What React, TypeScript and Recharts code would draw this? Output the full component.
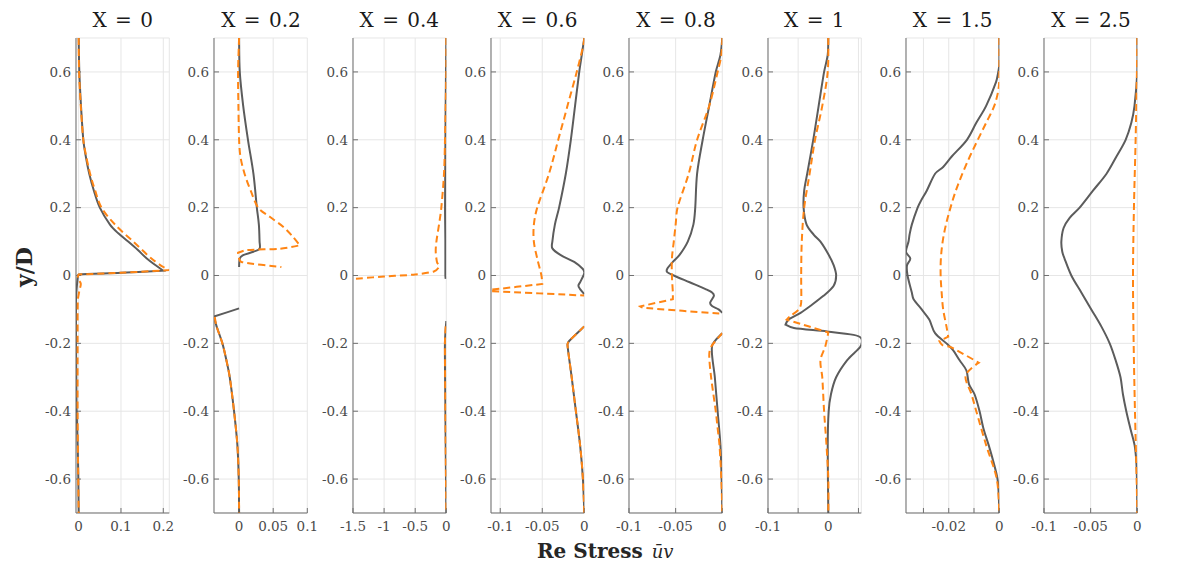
import React from "react";
import { ScatterChart, Scatter, XAxis, YAxis, CartesianGrid } from "recharts";

// each point is [uv, y/D]; a series can be broken into several segments
type Pt = [number, number];

const titles = ["X = 0", "X = 0.2", "X = 0.4", "X = 0.6", "X = 0.8", "X = 1", "X = 1.5", "X = 2.5"];

const yTicks = [-0.6, -0.4, -0.2, 0, 0.2, 0.4, 0.6];

const xDomains: [number, number][] = [
  [-0.0063, 0.2142],
  [-0.0368, 0.1],
  [-1.5, 0],
  [-0.111, 0],
  [-0.1, 0],
  [-0.1, 0.0547],
  [-0.0369, 0],
  [-0.1, 0],
];

const xTicks = [
  [0, 0.1, 0.2],
  [0, 0.05, 0.1],
  [-1.5, -1, -0.5, 0],
  [-0.1, -0.05, 0],
  [-0.1, -0.05, 0],
  [-0.1, -0.05, 0, 0.05],
  [-0.03, -0.02, -0.01, 0],
  [-0.1, -0.05, 0],
];

// ticks that carry a label (the others only get a grid line)
const xTickLabels = [
  [0, 0.1, 0.2],
  [0, 0.05, 0.1],
  [-1.5, -1, -0.5, 0],
  [-0.1, -0.05, 0],
  [-0.1, -0.05, 0],
  [-0.1, 0],
  [-0.02, 0],
  [-0.1, -0.05, 0],
];

// X = 0
const x0Solid: Pt[][] = [[
  [0, 0.7], [0.0016, 0.6], [0.0055, 0.5], [0.011, 0.4], [0.017, 0.35], [0.025, 0.3], [0.036, 0.25],
  [0.05, 0.2], [0.074, 0.15], [0.093, 0.125], [0.117, 0.1], [0.14, 0.075], [0.161, 0.05], [0.182, 0.03],
  [0.2, 0.014], [0.1, 0.008], [0, 0.003], [-0.002, -0.005], [-0.005, -0.043], [-0.0062, -0.072],
  [-0.0062, -0.2], [-0.0055, -0.3], [-0.0047, -0.4], [-0.0024, -0.5], [-0.0008, -0.6], [0, -0.7],
]];
const x0Dash: Pt[][] = [[
  [0, 0.7], [0.001, 0.6], [0.005, 0.5], [0.011, 0.4], [0.018, 0.35], [0.027, 0.3], [0.039, 0.25],
  [0.054, 0.2], [0.086, 0.15], [0.129, 0.1], [0.172, 0.05], [0.2, 0.025], [0.214, 0.016], [0.1, 0.008],
  [0, 0.003], [-0.002, -0.009], [0.005, -0.024], [0.002, -0.043], [-0.002, -0.073], [-0.0025, -0.2],
  [-0.0025, -0.4], [-0.001, -0.6], [0, -0.7],
]];

// X = 0.2
const x02Solid: Pt[][] = [
  [[0, 0.7], [0.001, 0.6], [0.006, 0.5], [0.013, 0.4], [0.021, 0.3], [0.026, 0.2], [0.029, 0.15],
   [0.03, 0.1], [0.03, 0.079], [0.021, 0.07], [0.006, 0.06], [0.001, 0.05], [0, 0.025]],
  [[0, -0.097], [-0.0368, -0.121], [-0.033, -0.15], [-0.0245, -0.2], [-0.0186, -0.25], [-0.0137, -0.3],
   [-0.0074, -0.4], [-0.0025, -0.5], [-0.0005, -0.6], [0, -0.7]],
];
const x02Dash: Pt[][] = [
  [[0, 0.7], [-0.0015, 0.6], [-0.001, 0.5], [0, 0.4], [0.002, 0.35], [0.008, 0.3], [0.017, 0.25],
   [0.028, 0.2], [0.045, 0.173], [0.065, 0.143], [0.079, 0.114], [0.089, 0.089], [0.06, 0.079],
   [0.011, 0.075], [-0.0015, 0.067], [-0.001, 0.057], [0.0034, 0.04], [0.062, 0.025]],
  [[-0.0358, -0.122], [-0.033, -0.15], [-0.0245, -0.2], [-0.0186, -0.25], [-0.0137, -0.3],
   [-0.0074, -0.4], [-0.0025, -0.5], [-0.0005, -0.6], [0, -0.7]],
];

// X = 0.4
const x04Solid: Pt[][] = [
  [[0, 0.7], [-0.005, 0.6], [-0.014, 0.4], [-0.02, 0.2], [-0.015, 0.1], [-0.015, 0], [-0.01, -0.01]],
  [[0, -0.134], [-0.022, -0.2], [-0.014, -0.4], [-0.005, -0.6], [0, -0.7]],
];
const x04Dash: Pt[][] = [
  [[0, 0.7], [0, 0.6], [-0.021, 0.4], [-0.037, 0.3], [-0.08, 0.2], [-0.117, 0.15], [-0.159, 0.1],
   [-0.17, 0.07], [-0.15, 0.04], [-0.12, 0.025], [-0.2, 0.012], [-0.5, 0.003], [-1.0, -0.003], [-1.5, -0.01]],
  [[-0.01, -0.15], [-0.022, -0.2], [-0.014, -0.4], [-0.005, -0.6], [0, -0.7]],
];

// X = 0.6
const x06Solid: Pt[][] = [
  [[0, 0.7], [-0.003, 0.65], [-0.006, 0.6], [-0.011, 0.5], [-0.016, 0.4], [-0.022, 0.3], [-0.03, 0.2],
   [-0.035, 0.15], [-0.038, 0.1], [-0.038, 0.08], [-0.028, 0.06], [-0.012, 0.04], [-0.002, 0.02],
   [0, 0.01], [-0.001, 0], [-0.005, -0.02], [-0.007, -0.03], [-0.005, -0.04], [0, -0.055]],
  [[0, -0.15], [-0.018, -0.193], [-0.02, -0.204], [-0.015, -0.3], [-0.01, -0.4], [-0.005, -0.5],
   [-0.0016, -0.6], [0, -0.7]],
];
const x06Dash: Pt[][] = [
  [[0, 0.7], [-0.001, 0.68], [-0.009, 0.6], [-0.02, 0.5], [-0.031, 0.4], [-0.042, 0.3], [-0.056, 0.2],
   [-0.06, 0.15], [-0.06, 0.1], [-0.056, 0.05], [-0.051, 0], [-0.05, -0.025], [-0.111, -0.042],
   [-0.111, -0.046], [0, -0.059]],
  [[0, -0.15], [-0.018, -0.193], [-0.02, -0.204], [-0.015, -0.3], [-0.01, -0.4], [-0.005, -0.5],
   [-0.0016, -0.6], [0, -0.7]],
];

// X = 0.8
const x08Solid: Pt[][] = [
  [[0, 0.7], [-0.002, 0.65], [-0.007, 0.6], [-0.014, 0.5], [-0.021, 0.4], [-0.027, 0.3], [-0.029, 0.2],
   [-0.031, 0.15], [-0.037, 0.1], [-0.046, 0.06], [-0.053, 0.04], [-0.059, 0.02], [-0.059, 0.01],
   [-0.052, 0], [-0.035, -0.02], [-0.018, -0.04], [-0.011, -0.05], [-0.009, -0.06], [-0.013, -0.08],
   [-0.011, -0.09], [-0.004, -0.1], [0, -0.11]],
  [[0, -0.17], [-0.011, -0.209], [-0.008, -0.3], [-0.005, -0.4], [-0.002, -0.5], [-0.0007, -0.6], [0, -0.7]],
];
const x08Dash: Pt[][] = [
  [[0, 0.7], [-0.001, 0.65], [-0.005, 0.6], [-0.014, 0.5], [-0.027, 0.4], [-0.036, 0.3], [-0.048, 0.2],
   [-0.05, 0.15], [-0.052, 0.1], [-0.054, 0.05], [-0.054, 0], [-0.053, -0.05], [-0.053, -0.07],
   [-0.088, -0.091], [-0.085, -0.095], [0, -0.113]],
  [[0, -0.17], [-0.012, -0.21], [-0.014, -0.236], [-0.012, -0.3], [-0.007, -0.4], [-0.005, -0.45],
   [-0.003, -0.5], [-0.001, -0.6], [0, -0.7]],
];

// X = 1
const x1Solid: Pt[][] = [[
  [0, 0.7], [-0.001, 0.65], [-0.007, 0.6], [-0.016, 0.5], [-0.025, 0.4], [-0.035, 0.3], [-0.04, 0.25],
  [-0.041, 0.2], [-0.036, 0.15], [-0.024, 0.12], [-0.013, 0.1], [0.001, 0.06], [0.009, 0.03], [0.013, 0],
  [0.009, -0.03], [-0.008, -0.06], [-0.03, -0.09], [-0.046, -0.11], [-0.066, -0.13], [-0.071, -0.145],
  [-0.057, -0.155], [-0.002, -0.165], [0.042, -0.175], [0.0545, -0.185], [0.0545, -0.205], [0.048, -0.22],
  [0.031, -0.25], [0.013, -0.3], [0.0044, -0.35], [0.0006, -0.4], [-0.001, -0.5], [0, -0.7],
]];
const x1Dash: Pt[][] = [[
  [0, 0.7], [-0.001, 0.6], [-0.01, 0.5], [-0.022, 0.4], [-0.031, 0.3], [-0.04, 0.2], [-0.044, 0.1],
  [-0.045, 0], [-0.045, -0.08], [-0.049, -0.1], [-0.063, -0.12], [-0.069, -0.13], [0, -0.168],
  [-0.005, -0.209], [-0.013, -0.25], [-0.01, -0.3], [-0.007, -0.4], [-0.003, -0.5], [0, -0.6], [0, -0.7],
]];

// X = 1.5
const x15Solid: Pt[][] = [[
  [0, 0.7], [0, 0.62], [-0.0004, 0.6], [-0.0013, 0.57], [-0.0052, 0.5], [-0.0091, 0.45], [-0.0128, 0.4],
  [-0.0189, 0.35], [-0.0222, 0.32], [-0.0254, 0.3], [-0.0287, 0.25], [-0.031, 0.22], [-0.0323, 0.2],
  [-0.0346, 0.15], [-0.0355, 0.12], [-0.0359, 0.1], [-0.0369, 0.07], [-0.0352, 0.05], [-0.0365, 0.03],
  [-0.0363, 0], [-0.0346, -0.05], [-0.0339, -0.07], [-0.0307, -0.1], [-0.0277, -0.13], [-0.0254, -0.17],
  [-0.0209, -0.2], [-0.0183, -0.22], [-0.0157, -0.25], [-0.013, -0.28], [-0.012, -0.32], [-0.0098, -0.35],
  [-0.0078, -0.4], [-0.0063, -0.45], [-0.0042, -0.5], [-0.0023, -0.55], [-0.0007, -0.6], [-0.0002, -0.65],
  [0, -0.7],
]];
const x15Dash: Pt[][] = [[
  [0, 0.7], [0, 0.6], [-0.0003, 0.55], [-0.002, 0.5], [-0.0052, 0.45], [-0.0085, 0.4], [-0.0117, 0.35],
  [-0.0146, 0.3], [-0.0172, 0.25], [-0.0193, 0.2], [-0.0211, 0.15], [-0.0224, 0.1], [-0.0231, 0.05],
  [-0.0232, 0], [-0.0228, -0.05], [-0.0222, -0.1], [-0.0209, -0.15], [-0.0202, -0.18], [-0.0237, -0.193],
  [-0.0225, -0.205], [-0.019, -0.212], [-0.0081, -0.257], [-0.0133, -0.295], [-0.011, -0.35],
  [-0.0091, -0.4], [-0.0052, -0.5], [-0.001, -0.6], [0, -0.7],
]];

// X = 2.5
const x25Solid: Pt[][] = [[
  [0, 0.7], [0, 0.6], [-0.003, 0.5], [-0.0064, 0.45], [-0.0125, 0.4], [-0.0225, 0.35], [-0.033, 0.3],
  [-0.0475, 0.25], [-0.0618, 0.2], [-0.0725, 0.17], [-0.079, 0.14], [-0.0814, 0.1], [-0.0804, 0.07],
  [-0.078, 0.05], [-0.0707, 0], [-0.06, -0.05], [-0.0493, -0.1], [-0.0386, -0.15], [-0.0296, -0.2],
  [-0.0232, -0.25], [-0.018, -0.3], [-0.0154, -0.35], [-0.0118, -0.4], [-0.0075, -0.45], [-0.0029, -0.5],
  [-0.001, -0.55], [-0.0004, -0.6], [0, -0.7],
]];
const x25Dash: Pt[][] = [[
  [0, 0.7], [-0.0004, 0.6], [-0.0018, 0.4], [-0.0036, 0.2], [-0.0046, 0], [-0.0039, -0.2],
  [-0.0025, -0.4], [-0.0007, -0.6], [0, -0.7],
]];

const solidSeries = [x0Solid, x02Solid, x04Solid, x06Solid, x08Solid, x1Solid, x15Solid, x25Solid];
const dashSeries = [x0Dash, x02Dash, x04Dash, x06Dash, x08Dash, x1Dash, x15Dash, x25Dash];

const GRAY = "#5c5c5c";
const ORANGE = "#ff8514";
const BOX = "#6f6f6f";
const GRID = "#e6e6e6";
const SERIF = "DejaVu Serif";

const PLOT_TOP = 38;
const PLOT_H = 475;
const PLOT_W = 93.3;
const Y_AXIS_W = 40;
const X_AXIS_H = 30;
const RIGHT_PAD = 14;

const toPts = (seg: Pt[]) => seg.map(([x, y]) => ({ x, y }));
const renderNothing = () => null;

// control point for a bezier piece, tangent length limited by the piece length
function ctrl(p: number[], t: number[], d: number, sign: number) {
  const len = Math.hypot(t[0], t[1]);
  if (len === 0) return p;
  const k = Math.min(len / 3, d / 3) / len;
  return [p[0] + sign * t[0] * k, p[1] + sign * t[1] * k];
}

// catmull-rom like curve that keeps sharp turns as corners
function smoothCurve(context: any) {
  let pts: number[][] = [];
  return {
    areaStart() {},
    areaEnd() {},
    lineStart() {
      pts = [];
    },
    point(x: number, y: number) {
      pts.push([+x, +y]);
    },
    lineEnd() {
      const n = pts.length;
      if (!n) return;
      context.moveTo(pts[0][0], pts[0][1]);
      const tan = pts.map((p, i) => {
        const a = pts[Math.max(0, i - 1)];
        const b = pts[Math.min(n - 1, i + 1)];
        if (i > 0 && i < n - 1) {
          const u = [p[0] - a[0], p[1] - a[1]];
          const v = [b[0] - p[0], b[1] - p[1]];
          const lu = Math.hypot(u[0], u[1]);
          const lv = Math.hypot(v[0], v[1]);
          if (lu && lv && (u[0] * v[0] + u[1] * v[1]) / (lu * lv) < 0.3) return [0, 0];
        }
        return [(b[0] - a[0]) / 2, (b[1] - a[1]) / 2];
      });
      for (let i = 0; i < n - 1; i++) {
        const p1 = pts[i];
        const p2 = pts[i + 1];
        const d = Math.hypot(p2[0] - p1[0], p2[1] - p1[1]);
        const c1 = ctrl(p1, tan[i], d, 1);
        const c2 = ctrl(p2, tan[i + 1], d, -1);
        context.bezierCurveTo(c1[0], c1[1], c2[0], c2[1], p2[0], p2[1]);
      }
    },
  };
}

function XTick(props: any) {
  const { x, y, payload, labels } = props;
  if (!labels.includes(payload.value)) return null;
  return (
    <text x={x} y={y} dy="0.8em" textAnchor="middle" fill="#4a4a4a" fontSize={13.5} fontFamily={SERIF}>
      {String(payload.value)}
    </text>
  );
}

function YTick(props: any) {
  const { x, y, payload } = props;
  return (
    <text x={x} y={y} dy="0.36em" textAnchor="end" fill="#4a4a4a" fontSize={13.5} fontFamily={SERIF}>
      {String(payload.value)}
    </text>
  );
}

function Panel({ i }: { i: number }) {
  const plotLeft = 76 + i * 138.33;
  const domain = xDomains[i];
  const labels = xTickLabels[i];
  return (
    <div style={{ position: "absolute", left: plotLeft - Y_AXIS_W, top: 0 }}>
      <ScatterChart
        width={Y_AXIS_W + PLOT_W + RIGHT_PAD}
        height={PLOT_TOP + PLOT_H + X_AXIS_H}
        margin={{ top: PLOT_TOP, right: RIGHT_PAD, bottom: 0, left: 0 }}
      >
        <CartesianGrid stroke={GRID} strokeWidth={1} />
        <XAxis
          dataKey="x"
          type="number"
          domain={domain}
          ticks={xTicks[i]}
          allowDataOverflow
          interval={0}
          height={X_AXIS_H}
          tickSize={-5}
          tickMargin={12}
          tick={<XTick labels={labels} />}
          axisLine={{ stroke: BOX }}
          tickLine={{ stroke: BOX }}
        />
        <XAxis
          xAxisId="top"
          orientation="top"
          type="number"
          domain={domain}
          ticks={xTicks[i]}
          allowDataOverflow
          interval={0}
          height={0}
          tickSize={-5}
          tick={false}
          axisLine={{ stroke: BOX }}
          tickLine={{ stroke: BOX }}
        />
        <YAxis
          dataKey="y"
          type="number"
          domain={[-0.7, 0.7]}
          ticks={yTicks}
          allowDataOverflow
          interval={0}
          width={Y_AXIS_W}
          tickSize={-5}
          tickMargin={10}
          tick={<YTick />}
          axisLine={{ stroke: BOX }}
          tickLine={{ stroke: BOX }}
        />
        <YAxis
          yAxisId="right"
          orientation="right"
          type="number"
          domain={[-0.7, 0.7]}
          ticks={yTicks}
          allowDataOverflow
          interval={0}
          width={0}
          tickSize={-5}
          tick={false}
          axisLine={{ stroke: BOX }}
          tickLine={{ stroke: BOX }}
        />
        {solidSeries[i].map((seg, k) => (
          <Scatter
            key={"s" + k}
            data={toPts(seg)}
            line={{ stroke: GRAY, strokeWidth: 2 }}
            lineJointType={smoothCurve as any}
            shape={renderNothing}
            isAnimationActive={false}
          />
        ))}
        {dashSeries[i].map((seg, k) => (
          <Scatter
            key={"d" + k}
            data={toPts(seg)}
            line={{ stroke: ORANGE, strokeWidth: 2, strokeDasharray: "7 4" }}
            lineJointType={smoothCurve as any}
            shape={renderNothing}
            isAnimationActive={false}
          />
        ))}
      </ScatterChart>
      <div
        style={{
          position: "absolute",
          left: Y_AXIS_W - 20,
          width: PLOT_W + 40,
          top: 9,
          textAlign: "center",
          fontFamily: SERIF,
          fontSize: 20,
          lineHeight: "22px",
          wordSpacing: 2,
          whiteSpace: "pre",
          color: "#1a1a1a",
        }}
      >
        {titles[i]}
      </div>
    </div>
  );
}

export default function App() {
  return (
    <div
      style={{
        position: "absolute",
        left: 0,
        top: 0,
        width: 1196,
        height: 572,
        background: "#fff",
        overflow: "hidden",
      }}
    >
      {titles.map((_, i) => (
        <Panel key={i} i={i} />
      ))}
      <div
        style={{
          position: "absolute",
          left: 24,
          top: 267,
          transform: "translate(-50%, -50%) rotate(-90deg)",
          fontFamily: SERIF,
          fontWeight: "bold",
          fontSize: 22,
          color: "#262626",
          whiteSpace: "nowrap",
        }}
      >
        y/D
      </div>
      <div
        style={{
          position: "absolute",
          left: 537,
          top: 540,
          fontFamily: SERIF,
          fontSize: 20,
          lineHeight: "22px",
          color: "#262626",
          whiteSpace: "nowrap",
        }}
      >
        <span style={{ fontWeight: "bold" }}>Re Stress</span>
        <span style={{ fontStyle: "italic", fontSize: 18, marginLeft: 9 }}>ūv</span>
      </div>
    </div>
  );
}
